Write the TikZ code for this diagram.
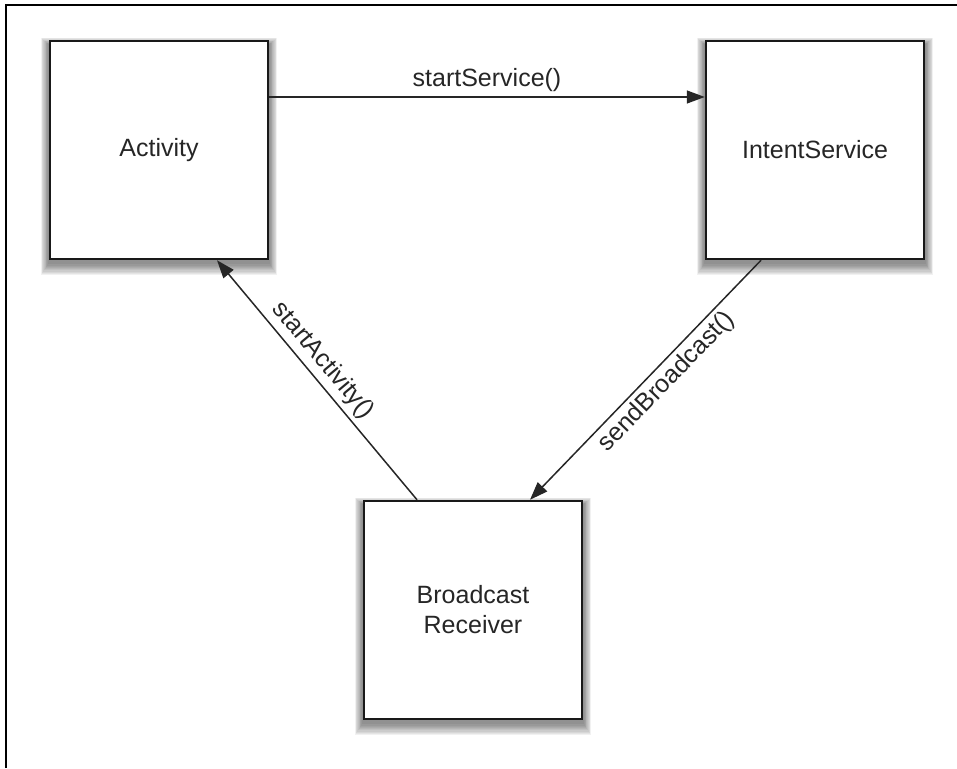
\documentclass[tikz,border=0pt]{standalone}
\usepackage{fontspec}
\setmainfont{Liberation Sans}
\usetikzlibrary{arrows.meta,backgrounds}
\tikzset{
  box/.style={draw=black!90, line width=2.5pt, fill=white, minimum width=218pt, minimum height=218pt,
    inner sep=0pt, align=center, font=\fontsize{25}{30}\selectfont, text=black!85},
  conn/.style={line width=1.5pt, draw=black!85, -{Triangle[length=18pt,width=13pt]}},
  lbl/.style={font=\fontsize{25}{30}\selectfont, text=black!85, inner sep=4.5pt},
  frame/.style={line width=2pt, draw=black}
}
\begin{document}
\begin{tikzpicture}[x=1pt,y=-1pt]
\useasboundingbox (0,0) rectangle (957,768);
\coordinate (fl) at (6,768);
\coordinate (fc) at (6,5);
\coordinate (fr) at (957,5);
\draw[frame] (fl) -- (fc) -- (fr);

\node[box] (act) at (159,150) {Activity};
\node[box] (svc) at (815,150) {IntentService};
\node[box] (rcv) at (473,610) {Broadcast\\Receiver};

\begin{scope}[on background layer]
\foreach \n in {act,svc,rcv}{
  \foreach \s in {1,...,10}{
    \fill[black,opacity=0.055]
      ([xshift=-\s*0.8pt, yshift=-\s*1.2pt-3pt]\n.south west)
      rectangle ([xshift=\s*0.8pt, yshift=\s*0.7pt-5pt]\n.north east);
  }
}
\end{scope}

\draw[conn] (act.east |- 0,97) -- node[lbl, above, pos=0.5] {startService()} (svc.west |- 0,97);
\draw[conn] ([xshift=-56pt]rcv.north) -- node[lbl, sloped, above, pos=0.535] {startActivity()} ([xshift=58pt]act.south);
\draw[conn] ([xshift=-54pt]svc.south) -- node[lbl, sloped, below, pos=0.46] {sendBroadcast()} ([xshift=57pt]rcv.north);
\end{tikzpicture}
\end{document}
